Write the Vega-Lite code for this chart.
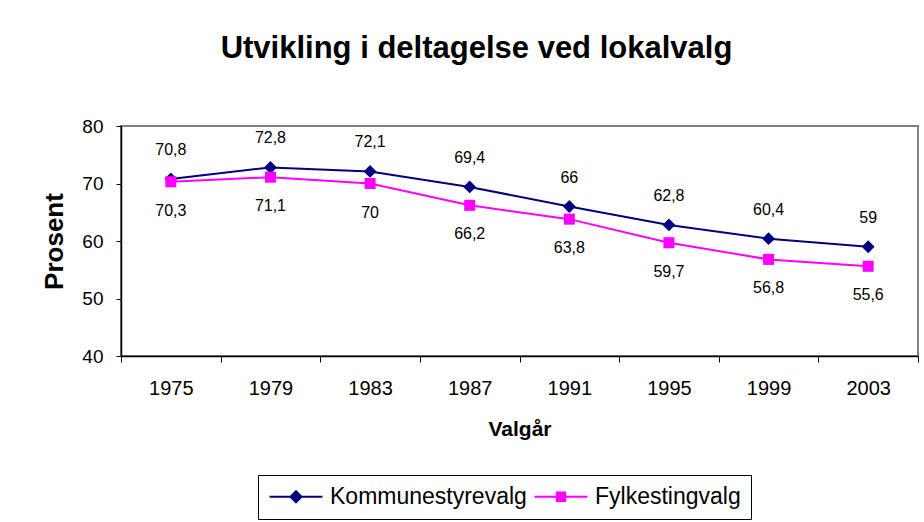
{
  "$schema": "https://vega.github.io/schema/vega-lite/v6.json",
  "width": 797,
  "height": 230,
  "autosize": "none",
  "padding": {"left": 121, "top": 126, "right": 6, "bottom": 166},
  "background": "white",
  "config": {
    "font": "Liberation Sans",
    "locale": {"number": {"decimal": ",", "thousands": " ", "grouping": [3], "currency": ["", " kr"]}},
    "view": {"stroke": "#808080", "strokeWidth": 2}
  },
  "title": {
    "text": "Utvikling i deltagelse ved lokalvalg",
    "fontSize": 31,
    "fontWeight": "bold",
    "color": "black",
    "font": "Liberation Sans",
    "offset": 52,
    "dx": -43
  },
  "data": {
    "values": [
      {"year": 1975, "serie": "Kommunestyrevalg", "value": 70.8},
      {"year": 1979, "serie": "Kommunestyrevalg", "value": 72.8},
      {"year": 1983, "serie": "Kommunestyrevalg", "value": 72.1},
      {"year": 1987, "serie": "Kommunestyrevalg", "value": 69.4},
      {"year": 1991, "serie": "Kommunestyrevalg", "value": 66},
      {"year": 1995, "serie": "Kommunestyrevalg", "value": 62.8},
      {"year": 1999, "serie": "Kommunestyrevalg", "value": 60.4},
      {"year": 2003, "serie": "Kommunestyrevalg", "value": 59},
      {"year": 1975, "serie": "Fylkestingvalg", "value": 70.3},
      {"year": 1979, "serie": "Fylkestingvalg", "value": 71.1},
      {"year": 1983, "serie": "Fylkestingvalg", "value": 70},
      {"year": 1987, "serie": "Fylkestingvalg", "value": 66.2},
      {"year": 1991, "serie": "Fylkestingvalg", "value": 63.8},
      {"year": 1995, "serie": "Fylkestingvalg", "value": 59.7},
      {"year": 1999, "serie": "Fylkestingvalg", "value": 56.8},
      {"year": 2003, "serie": "Fylkestingvalg", "value": 55.6}
    ]
  },
  "encoding": {
    "x": {
      "field": "year",
      "type": "quantitative",
      "scale": {"domain": [1973, 2005], "nice": false, "zero": false},
      "axis": {
        "title": "Valgår",
        "titleFontSize": 21,
        "titleFontWeight": "bold",
        "titleColor": "black",
        "titlePadding": 20,
        "values": [1973, 1975, 1977, 1979, 1981, 1983, 1985, 1987, 1989, 1991, 1993, 1995, 1997, 1999, 2001, 2003, 2005],
        "format": "d",
        "labelExpr": "datum.value % 4 == 3 ? datum.label : ''",
        "labelOverlap": false,
        "labelFlush": false,
        "labelBound": false,
        "labelFontSize": 20,
        "labelColor": "black",
        "labelPadding": 16,
        "tickSize": 6,
        "tickColor": "black",
        "tickOpacity": {"condition": {"test": "datum.value % 4 == 1", "value": 1}, "value": 0},
        "domainColor": "black",
        "domainWidth": 1.5,
        "grid": false
      }
    },
    "y": {
      "field": "value",
      "type": "quantitative",
      "scale": {"domain": [40, 80], "nice": false, "zero": false},
      "axis": {
        "title": "Prosent",
        "titleFontSize": 26,
        "titleFontWeight": "bold",
        "titleColor": "black",
        "titlePadding": 14,
        "values": [40, 50, 60, 70, 80],
        "labelFontSize": 19,
        "labelColor": "black",
        "labelPadding": 13,
        "tickSize": 5,
        "tickColor": "black",
        "domainColor": "black",
        "domainWidth": 1.5,
        "grid": false
      }
    }
  },
  "layer": [
    {
      "mark": {"type": "line", "strokeWidth": 2},
      "encoding": {
        "color": {
          "field": "serie",
          "type": "nominal",
          "scale": {"domain": ["Kommunestyrevalg", "Fylkestingvalg"], "range": ["#000080", "#FF00FF"]},
          "legend": {
            "title": null,
            "orient": "none",
            "legendX": 137,
            "legendY": 349,
            "direction": "horizontal",
            "strokeColor": "black",
            "fillColor": "white",
            "padding": 10,
            "labelFontSize": 23,
            "labelColor": "black",
            "labelLimit": 400,
            "labelOffset": 39,
            "columnPadding": 3,
            "symbolSize": 400,
            "symbolStrokeWidth": 2,
            "encode": {
              "symbols": {
                "update": {
                  "shape": {"signal": "datum.value == 'Kommunestyrevalg' ? 'M-1,0L4.3,0M1.65,-0.55L2.2,0L1.65,0.55L1.1,0Z' : 'M-1,0L4.3,0M1.23,-0.42L2.07,-0.42L2.07,0.42L1.23,0.42Z'"},
                  "fill": {"signal": "datum.value == 'Kommunestyrevalg' ? '#000080' : '#FF00FF'"},
                  "stroke": {"signal": "datum.value == 'Kommunestyrevalg' ? '#000080' : '#FF00FF'"},
                  "strokeWidth": {"value": 2},
                  "opacity": {"value": 1},
                  "fillOpacity": {"value": 1}
                }
              }
            }
          }
        }
      }
    },
    {
      "transform": [{"filter": "datum.serie == 'Kommunestyrevalg'"}],
      "mark": {"type": "point", "shape": "diamond", "filled": true, "opacity": 1, "size": 165, "color": "#000080"}
    },
    {
      "transform": [{"filter": "datum.serie == 'Fylkestingvalg'"}],
      "mark": {"type": "point", "shape": "square", "filled": true, "opacity": 1, "size": 121, "color": "#FF00FF"}
    },
    {
      "transform": [{"filter": "datum.serie == 'Kommunestyrevalg'"}],
      "mark": {"type": "text", "dy": -29, "fontSize": 16, "color": "black"},
      "encoding": {"text": {"field": "value", "type": "quantitative", "format": "~g"}}
    },
    {
      "transform": [{"filter": "datum.serie == 'Fylkestingvalg'"}],
      "mark": {"type": "text", "dy": 29, "fontSize": 16, "color": "black"},
      "encoding": {"text": {"field": "value", "type": "quantitative", "format": "~g"}}
    }
  ]
}
